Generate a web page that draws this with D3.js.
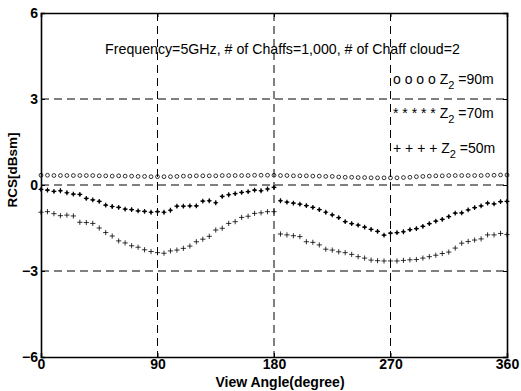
<!DOCTYPE html>
<html><head><meta charset="utf-8">
<script src="https://cdn.jsdelivr.net/npm/d3@7"></script>
<style>body{margin:0;background:#fff}svg{display:block}</style>
</head><body>
<script>
const anglesFull = d3.range(0, 361, 5);
const anglesA = d3.range(0, 181, 5);
const anglesB = d3.range(185, 361, 5);
const z90 = [0.34,0.34,0.33,0.33,0.33,0.33,0.33,0.33,0.33,
  0.32,0.32,0.31,0.32,0.31,0.31,0.3,0.3,0.29,0.29,
  0.29,0.29,0.3,0.31,0.31,0.32,0.32,0.32,0.32,
  0.33,0.33,0.33,0.33,0.33,0.34,0.34,0.34,0.34,
  0.33,0.33,0.32,0.32,0.32,0.31,0.31,0.3,0.3,
  0.28,0.27,0.27,0.26,0.26,0.25,0.25,0.25,0.25,
  0.25,0.26,0.27,0.29,0.3,0.31,0.32,0.32,0.33,
  0.33,0.33,0.33,0.33,0.33,0.34,0.34,0.35,0.35];
const z70A = [-0.15,-0.18,-0.22,-0.2,-0.27,-0.32,-0.33,-0.47,-0.52,-0.57,-0.7,-0.75,-0.78,-0.84,-0.86,-0.9,-0.92,-0.95,-0.93,-0.95,-0.88,-0.74,-0.74,-0.73,-0.73,-0.56,-0.55,-0.62,-0.4,-0.34,-0.3,-0.26,-0.23,-0.18,-0.2,-0.14,-0.08];
const z70B = [-0.55,-0.6,-0.63,-0.67,-0.72,-0.78,-0.86,-0.95,-1.04,-1.14,-1.28,-1.35,-1.4,-1.47,-1.55,-1.62,-1.75,-1.68,-1.66,-1.63,-1.56,-1.52,-1.44,-1.35,-1.26,-1.2,-1.1,-0.98,-0.97,-0.87,-0.79,-0.73,-0.63,-0.66,-0.58,-0.57];
const z50A = [-0.95,-0.93,-1.0,-1.07,-1.05,-1.08,-1.3,-1.31,-1.34,-1.5,-1.66,-1.78,-1.95,-2.02,-2.12,-2.17,-2.26,-2.32,-2.36,-2.38,-2.3,-2.27,-2.21,-2.13,-1.98,-1.89,-1.79,-1.57,-1.51,-1.34,-1.28,-1.13,-1.09,-0.99,-0.97,-0.93,-0.93];
const z50B = [-1.71,-1.74,-1.77,-1.8,-1.98,-2.0,-2.09,-2.24,-2.27,-2.33,-2.36,-2.42,-2.5,-2.55,-2.62,-2.64,-2.65,-2.65,-2.65,-2.63,-2.61,-2.6,-2.55,-2.5,-2.45,-2.39,-2.34,-2.2,-2.03,-1.97,-1.92,-1.88,-1.74,-1.74,-1.69,-1.73];
const xTicks = [0,90,180,270,360];
const yTicks = [-6,-3,0,3,6];
const titleText = "Frequency=5GHz, # of Chaffs=1,000, # of Chaff cloud=2";
const legendSymbols = ["o o o o","* * * * *","+ + + +"];
const legendLabels = ["=90m","=70m","=50m"];

const W=521,H=391, L=41,R=507,T=13,B=357;
const svg=d3.select("body").append("svg").attr("width",W).attr("height",H);
const x=d3.scaleLinear().domain([0,360]).range([L,R]);
const y=d3.scaleLinear().domain([-6,6]).range([B,T]);
const font="Arial, 'Liberation Sans', sans-serif";

// grid
const g=svg.append("g").attr("stroke","#000").attr("stroke-width",1).attr("stroke-dasharray","8,5");
xTicks.slice(1,-1).forEach(v=>g.append("line").attr("x1",x(v)).attr("x2",x(v)).attr("y1",T).attr("y2",B));
yTicks.slice(1,-1).forEach(v=>g.append("line").attr("x1",L).attr("x2",R).attr("y1",y(v)).attr("y2",y(v)));

// axes
const xa=svg.append("g").attr("transform",`translate(0,${B})`).call(d3.axisBottom(x).tickValues(xTicks).tickSize(-4).tickPadding(5));
const ya=svg.append("g").attr("transform",`translate(${L},0)`).call(d3.axisLeft(y).tickValues(yTicks).tickSize(-4).tickPadding(3));
const xt=svg.append("g").attr("transform",`translate(0,${T})`).call(d3.axisTop(x).tickValues(xTicks).tickSize(-4).tickFormat(""));
const yr=svg.append("g").attr("transform",`translate(${R},0)`).call(d3.axisRight(y).tickValues(yTicks).tickSize(-4).tickFormat(""));
[xa,ya,xt,yr].forEach(a=>{a.select(".domain").attr("stroke","#000").attr("stroke-width",1.6);a.selectAll("text").attr("font-family",font).attr("font-size",14).attr("font-weight","bold").attr("fill","#000");});
xa.selectAll("text").attr("dy","0.5em");
ya.selectAll("text").attr("dy","0.3em");

// markers
const circ=svg.append("g");
anglesFull.forEach((a,i)=>circ.append("circle").attr("cx",x(a)).attr("cy",y(z90[i])).attr("r",1.9).attr("fill","none").attr("stroke","#000").attr("stroke-width",0.8));
function star(gs,cx,cy){
  const s=2.4, d=1.0;
  gs.append("path").attr("d",`M${cx-s},${cy}H${cx+s}M${cx},${cy-s}V${cy+s}M${cx-d},${cy-d}L${cx+d},${cy+d}M${cx-d},${cy+d}L${cx+d},${cy-d}`).attr("stroke","#000").attr("stroke-width",1.2);
}
function plus(gs,cx,cy){
  const s=2.6;
  gs.append("path").attr("d",`M${cx-s},${cy}H${cx+s}M${cx},${cy-s}V${cy+s}`).attr("stroke","#000").attr("stroke-width",0.8);
}
const st=svg.append("g");
anglesA.forEach((a,i)=>star(st,x(a),y(z70A[i])));
anglesB.forEach((a,i)=>star(st,x(a),y(z70B[i])));
const pl=svg.append("g");
anglesA.forEach((a,i)=>plus(pl,x(a),y(z50A[i])));
anglesB.forEach((a,i)=>plus(pl,x(a),y(z50B[i])));

// title text
svg.append("text").attr("x",282.5).attr("y",54).attr("text-anchor","middle").attr("font-family",font).attr("font-size",14.2).text(titleText);

// legend
const legY=[84,118,153];
const lg=svg.append("g").attr("font-family",font).attr("font-size",14);
legendLabels.forEach((t,i)=>{
  const tx=lg.append("text").attr("x",393).attr("y",legY[i]).attr("xml:space","preserve");
  tx.append("tspan").text(legendSymbols[i]+" Z");
  tx.append("tspan").attr("font-size",11).attr("dy",5).text("2");
  tx.append("tspan").attr("dy",-5).text(" "+t);
});

// axis titles
svg.append("text").attr("x",280).attr("y",387).attr("text-anchor","middle").attr("font-family",font).attr("font-size",14).attr("font-weight","bold").text("View Angle(degree)");
svg.append("text").attr("transform",`translate(17,170) rotate(-90)`).attr("text-anchor","middle").attr("font-family",font).attr("font-size",13.5).attr("font-weight","bold").text("RCS[dBsm]");
</script>
</body></html>
